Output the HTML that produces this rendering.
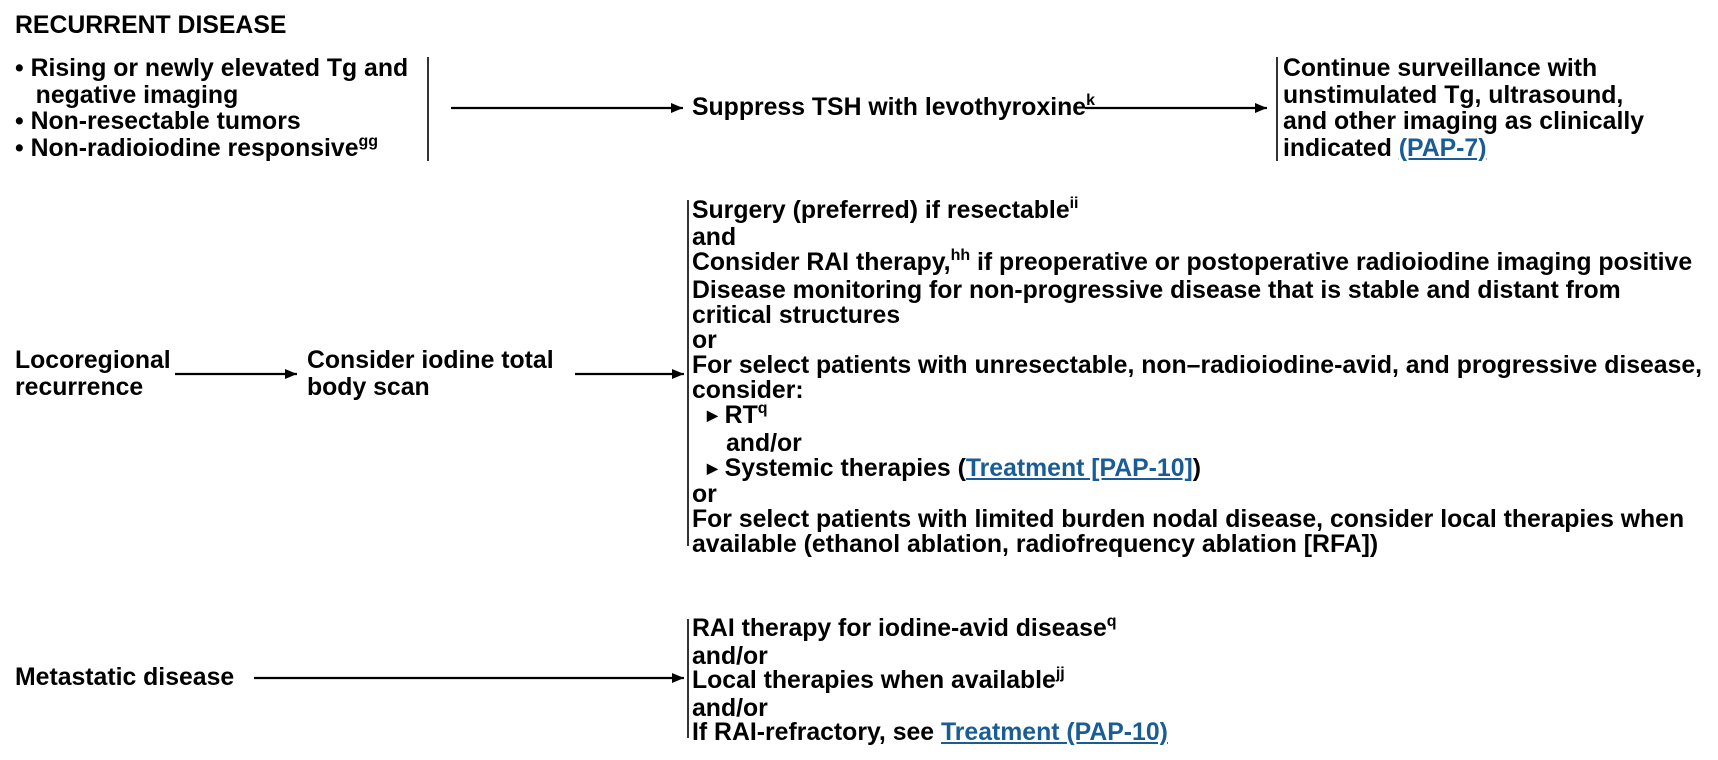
<!DOCTYPE html>
<html><head><meta charset="utf-8">
<style>
html,body{margin:0;padding:0;background:#fff;}
body{width:1718px;height:760px;position:relative;overflow:hidden;font-family:"Liberation Sans",Arial,sans-serif;font-weight:bold;font-size:24.8px;color:#000;}
.t{position:absolute;white-space:nowrap;}
sup{font-size:16px;vertical-align:0;position:relative;top:-10px;}
a{color:#1a5c96;text-decoration:underline;}
.blk div{white-space:nowrap;}
svg{position:absolute;left:0;top:0;}
</style></head>
<body>
<svg width="1718" height="760">
  <defs><marker id="ah" markerWidth="12" markerHeight="10" refX="12" refY="5" orient="auto" markerUnits="userSpaceOnUse"><path d="M0,0 L12,5 L0,10 z" fill="#000"/></marker></defs>
  <line x1="428" y1="57" x2="428" y2="161" stroke="#000" stroke-width="1.6"/>
  <line x1="451" y1="108" x2="683" y2="108" stroke="#000" stroke-width="2.2" marker-end="url(#ah)"/>
  <line x1="1085" y1="108" x2="1267" y2="108" stroke="#000" stroke-width="2.2" marker-end="url(#ah)"/>
  <line x1="1277" y1="57" x2="1277" y2="161" stroke="#000" stroke-width="1.6"/>
  <line x1="175" y1="374" x2="297" y2="374" stroke="#000" stroke-width="2.2" marker-end="url(#ah)"/>
  <line x1="575" y1="374" x2="684" y2="374" stroke="#000" stroke-width="2.2" marker-end="url(#ah)"/>
  <line x1="688" y1="200" x2="688" y2="546" stroke="#000" stroke-width="1.6"/>
  <line x1="254" y1="678" x2="684" y2="678" stroke="#000" stroke-width="2.2" marker-end="url(#ah)"/>
  <line x1="688" y1="619" x2="688" y2="738" stroke="#000" stroke-width="1.6"/>
</svg>

<div class="t" style="left:15px;top:13px;line-height:26px;">RECURRENT DISEASE</div>

<div class="t blk" style="left:15px;top:56px;line-height:26.5px;">
  <div>• Rising or newly elevated Tg and</div>
  <div>&nbsp;&nbsp;&nbsp;negative imaging</div>
  <div>• Non-resectable tumors</div>
  <div>• Non-radioiodine responsive<sup>gg</sup></div>
</div>

<div class="t" style="left:692px;top:95px;line-height:26px;">Suppress TSH with levothyroxine<sup>k</sup></div>

<div class="t blk" style="left:1283px;top:56px;line-height:26.5px;">
  <div>Continue surveillance with</div>
  <div>unstimulated Tg, ultrasound,</div>
  <div>and other imaging as clinically</div>
  <div>indicated <a>(PAP-7)</a></div>
</div>

<div class="t blk" style="left:15px;top:347px;line-height:27px;">
  <div>Locoregional</div><div>recurrence</div>
</div>
<div class="t blk" style="left:307px;top:347px;line-height:27px;">
  <div>Consider iodine total</div><div>body scan</div>
</div>

<div class="t blk" style="left:692px;top:198.5px;line-height:24.9px;">
  <div>Surgery (preferred) if resectable<sup>ii</sup></div>
  <div>and</div>
  <div>Consider RAI therapy,<sup>hh</sup> if preoperative or postoperative radioiodine imaging positive</div>
  <div>Disease monitoring for non-progressive disease that is stable and distant from</div>
  <div>critical structures</div>
  <div>or</div>
  <div>For select patients with unresectable, non–radioiodine-avid, and progressive disease,</div>
  <div>consider:</div>
  <div style="padding-left:15px;"><span style="font-size:14px;position:relative;top:-3px;">▶</span> RT<sup>q</sup></div>
  <div style="padding-left:34px;">and/or</div>
  <div style="padding-left:15px;"><span style="font-size:14px;position:relative;top:-3px;">▶</span> Systemic therapies (<a>Treatment [PAP-10]</a>)</div>
  <div>or</div>
  <div>For select patients with limited burden nodal disease, consider local therapies when</div>
  <div>available (ethanol ablation, radiofrequency ablation [RFA])</div>
</div>

<div class="t" style="left:15px;top:665px;line-height:26px;">Metastatic disease</div>

<div class="t blk" style="left:692px;top:617px;line-height:24.5px;">
  <div>RAI therapy for iodine-avid disease<sup>q</sup></div>
  <div>and/or</div>
  <div>Local therapies when available<sup>jj</sup></div>
  <div>and/or</div>
  <div>If RAI-refractory, see <a>Treatment (PAP-10)</a></div>
</div>
</body></html>
